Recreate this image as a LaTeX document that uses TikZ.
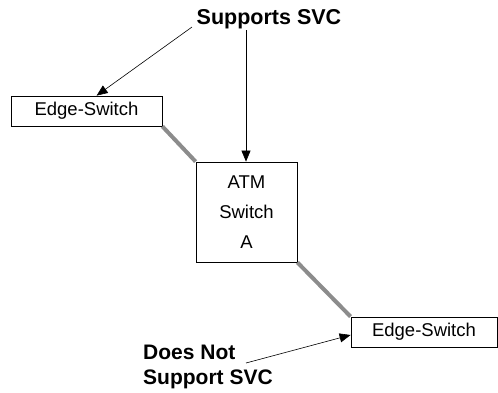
\documentclass[tikz,border=0pt]{standalone}
\usepackage{fontspec}
\setmainfont{Liberation Sans}
\usetikzlibrary{arrows.meta}
\begin{document}
\begin{tikzpicture}[x=1pt,y=-1pt,
  box/.style={draw=black,line width=0.8pt,inner sep=0pt,font=\fontsize{18.5}{30}\selectfont},
  link/.style={draw=black!45,line width=4pt},
  arr/.style={-{Triangle[length=11pt,width=9pt]},line width=0.6pt},
  lbl/.style={font=\fontsize{21}{25}\selectfont\bfseries,inner sep=0pt}]
\useasboundingbox (0,0) rectangle (498,392);
\node[box,minimum width=151pt,minimum height=30pt] (e1) at (86.5,111) {Edge-Switch};
\node[box,minimum width=101pt,minimum height=100pt,align=center] (atm) at (246.5,212) {ATM\\Switch\\A};
\node[box,minimum width=146pt,minimum height=30pt] (e2) at (424,332) {Edge-Switch};
\node[lbl,anchor=base,font=\fontsize{21.5}{25}\selectfont\bfseries] (sup) at (269,24) {Supports SVC};
\node[lbl,anchor=west,align=left] (dns) at (143,366.5) {Does Not\\Support SVC};
\draw[link] (e1.south east) -- (atm.north west);
\draw[link] (atm.south east) -- (e2.north west);
\coordinate (s1) at (192,27);
\coordinate (t1) at ([xshift=86pt]e1.north west);
\coordinate (s2) at (246,30);
\coordinate (s3) at (246,363);
\draw[arr] (s1) -- (t1);
\draw[arr] (s2) -- (s2 |- atm.north);
\draw[arr] (s3) -- ([yshift=-3pt]e2.west);
\end{tikzpicture}
\end{document}
